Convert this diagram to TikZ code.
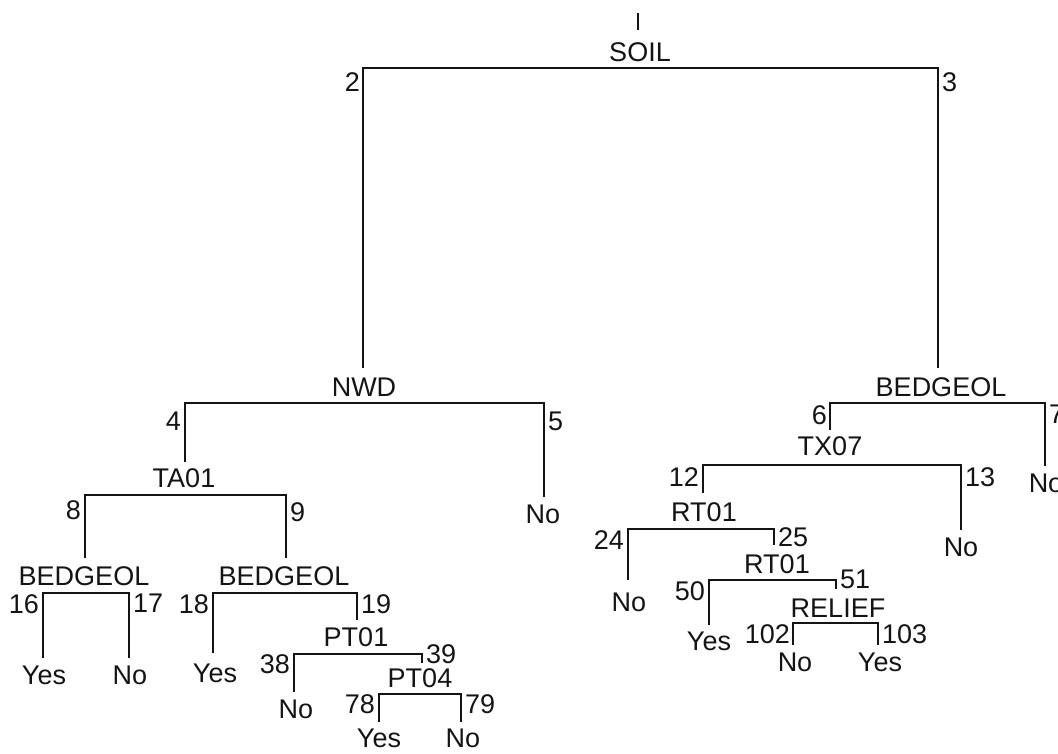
\documentclass[tikz,border=0pt]{standalone}
\usepackage{fontspec}
\setmainfont{Liberation Sans}
\usepackage{tikz}
\usetikzlibrary{positioning}
\definecolor{ink}{RGB}{20,20,20}
\tikzset{
  branch/.style={draw=ink,line width=1.5pt},
  split/.style={font=\fontsize{27}{29}\selectfont,text=ink,inner sep=0pt,anchor=center},
  leaf/.style={font=\fontsize{27}{29}\selectfont,text=ink,inner sep=0pt,anchor=center},
  numl/.style={font=\fontsize{27}{29}\selectfont,text=ink,inner sep=0pt,anchor=north east},
  numr/.style={font=\fontsize{27}{29}\selectfont,text=ink,inner sep=0pt,anchor=north west},
}

\begin{document}
\begin{tikzpicture}[x=1pt,y=-1pt]
  \useasboundingbox (0,0) rectangle (1058,753);
  % top and bottom of every branch
  \coordinate (t1) at (638,13);   \coordinate (b1) at (638,30);
  \coordinate (t2) at (363,68);   \coordinate (b2) at (363,368);
  \coordinate (t3) at (938,68);   \coordinate (b3) at (938,368);
  \coordinate (t4) at (185,403);  \coordinate (b4) at (185,462);
  \coordinate (t5) at (544,403);  \coordinate (b5) at (544,497);
  \coordinate (t6) at (830,403);  \coordinate (b6) at (830,430);
  \coordinate (t7) at (1045,403); \coordinate (b7) at (1045,466);
  \coordinate (t8) at (85,495);   \coordinate (b8) at (85,558);
  \coordinate (t9) at (286,495);  \coordinate (b9) at (286,558);
  \coordinate (t12) at (703,465); \coordinate (b12) at (703,493);
  \coordinate (t13) at (961,465); \coordinate (b13) at (961,530);
  \coordinate (t16) at (43,593);  \coordinate (b16) at (43,658);
  \coordinate (t17) at (129,593); \coordinate (b17) at (129,658);
  \coordinate (t18) at (213,593); \coordinate (b18) at (213,653);
  \coordinate (t19) at (357,593); \coordinate (b19) at (357,620);
  \coordinate (t24) at (628,529); \coordinate (b24) at (628,580);
  \coordinate (t25) at (774,529); \coordinate (b25) at (774,545);
  \coordinate (t38) at (294,654); \coordinate (b38) at (294,692);
  \coordinate (t39) at (422,654); \coordinate (b39) at (422,663);
  \coordinate (t50) at (709,580); \coordinate (b50) at (709,625);
  \coordinate (t51) at (836,580); \coordinate (b51) at (836,589);
  \coordinate (t78) at (379,694); \coordinate (b78) at (379,722);
  \coordinate (t79) at (461,694); \coordinate (b79) at (461,722);
  \coordinate (t102) at (793,623); \coordinate (b102) at (793,645);
  \coordinate (t103) at (878,623); \coordinate (b103) at (878,645);

  % splits
  \node[split] (soil) at (640,52) {SOIL};
  \node[split] (nwd) at (364,387) {NWD};
  \node[split] (bed3) at (941,387) {BEDGEOL};
  \node[split] (ta01) at (184,478) {TA01};
  \node[split] (tx07) at (830,446) {TX07};
  \node[split] (bed8) at (84,576) {BEDGEOL};
  \node[split] (bed9) at (284,576) {BEDGEOL};
  \node[split] (rt12) at (704,512) {RT01};
  \node[split] (pt19) at (356,637) {PT01};
  \node[split] (rt25) at (777,564) {RT01};
  \node[split] (pt39) at (420,678) {PT04};
  \node[split] (rel51) at (838,608) {RELIEF};

  % leaves
  \node[leaf] (leaf5) at (543,514) {No};
  \node[leaf] (leaf7) at (1046,483) {No};
  \node[leaf] (leaf13) at (961,547) {No};
  \node[leaf] (leaf16) at (44,675) {Yes};
  \node[leaf] (leaf17) at (130,675) {No};
  \node[leaf] (leaf18) at (215,673) {Yes};
  \node[leaf] (leaf24) at (629,602) {No};
  \node[leaf] (leaf38) at (296,709) {No};
  \node[leaf] (leaf50) at (709,641) {Yes};
  \node[leaf] (leaf78) at (379,738) {Yes};
  \node[leaf] (leaf79) at (463,738) {No};
  \node[leaf] (leaf102) at (795,662) {No};
  \node[leaf] (leaf103) at (880,662) {Yes};

  % branch numbers
  \node[numl] (num2) at (360,72) {2};
  \node[numr] (num3) at (942,72) {3};
  \node[numl] (num4) at (181,412) {4};
  \node[numr] (num5) at (548,412) {5};
  \node[numl] (num6) at (827,405) {6};
  \node[numr] (num7) at (1049,405) {7};
  \node[numl] (num8) at (81,500) {8};
  \node[numr] (num9) at (290,502) {9};
  \node[numl] (num12) at (699,467) {12};
  \node[numr] (num13) at (965,467) {13};
  \node[numl] (num16) at (39,594) {16};
  \node[numr] (num17) at (133,594) {17};
  \node[numl] (num18) at (209,594) {18};
  \node[numr] (num19) at (361,594) {19};
  \node[numl] (num24) at (624,530) {24};
  \node[numr] (num25) at (778,527) {25};
  \node[numl] (num38) at (290,654) {38};
  \node[numr] (num39) at (426,644) {39};
  \node[numl] (num50) at (705,581) {50};
  \node[numr] (num51) at (840,570) {51};
  \node[numl] (num78) at (375,694) {78};
  \node[numr] (num79) at (465,694) {79};
  \node[numl] (num102) at (790,624) {102};
  \node[numr] (num103) at (882,624) {103};

  % connectors
  \draw[branch] (t1) -- (b1);
  \foreach \l/\r in {2/3,4/5,6/7,8/9,12/13,16/17,18/19,24/25,38/39,50/51,78/79,102/103}
    \draw[branch] (b\l) -- (t\l) -- (t\r) -- (b\r);
\end{tikzpicture}
\end{document}
